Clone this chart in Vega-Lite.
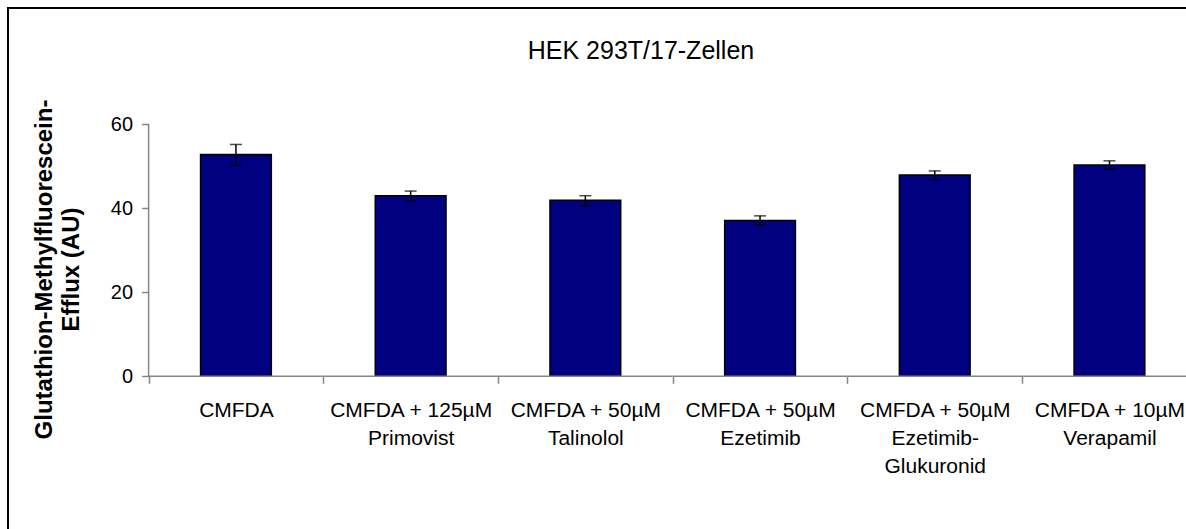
{
  "$schema": "https://vega.github.io/schema/vega-lite/v6.json",
  "width": 1188.8,
  "height": 527,
  "autosize": {"type": "none"},
  "padding": {"left": 8, "top": 8, "right": 0, "bottom": 0},
  "background": "white",
  "config": {
    "view": {"stroke": "black", "strokeWidth": 2, "fill": "white"},
    "font": "Liberation Sans"
  },
  "title": {
    "text": "HEK 293T/17-Zellen",
    "font": "Liberation Sans",
    "fontSize": 25,
    "fontWeight": "normal",
    "color": "black",
    "anchor": "middle",
    "frame": "group",
    "baseline": "alphabetic",
    "offset": 0,
    "dx": 38.6,
    "dy": 76
  },
  "resolve": {"axis": {"y": "independent"}},
  "data": {
    "values": [
      {"cat": "CMFDA", "v": 52.8, "lo": 50.2, "hi": 55.2},
      {"cat": "CMFDA + 125µM|Primovist", "v": 43.0, "lo": 41.7, "hi": 44.1},
      {"cat": "CMFDA + 50µM|Talinolol", "v": 41.9, "lo": 40.6, "hi": 43.0},
      {"cat": "CMFDA + 50µM|Ezetimib", "v": 37.1, "lo": 36.0, "hi": 38.2},
      {"cat": "CMFDA + 50µM|Ezetimib-|Glukuronid", "v": 47.9, "lo": 46.8, "hi": 48.9},
      {"cat": "CMFDA + 10µM|Verapamil", "v": 50.3, "lo": 49.2, "hi": 51.3}
    ]
  },
  "encoding": {
    "x": {
      "field": "cat",
      "type": "nominal",
      "sort": null,
      "title": null,
      "scale": {"paddingInner": 0, "paddingOuter": 0.4024, "align": 1, "round": false},
      "axis": {
        "orient": "bottom",
        "offset": -158.7,
        "domain": false,
        "ticks": true,
        "tickBand": "extent",
        "tickSize": 7,
        "tickColor": "#868686",
        "tickWidth": 1.5,
        "labelAngle": 0,
        "labelExpr": "split(datum.label, '|')",
        "labelFont": "Liberation Sans",
        "labelFontSize": 21,
        "labelColor": "black",
        "labelLineHeight": 28,
        "labelPadding": 16,
        "labelLimit": 0,
        "labelOverlap": false
      }
    }
  },
  "layer": [
    {
      "mark": {"type": "bar", "width": {"band": 0.405}, "fill": "#000080", "stroke": "black", "strokeWidth": 1.5},
      "encoding": {
        "y": {
          "field": "v",
          "type": "quantitative",
          "scale": {"domain": [-37.786, 87.69], "nice": false, "zero": false},
          "axis": {
            "orient": "left",
            "offset": -140.6,
            "values": [0, 20, 40, 60],
            "domain": false,
            "grid": false,
            "ticks": true,
            "tickSize": 7,
            "tickColor": "#868686",
            "tickWidth": 1.5,
            "labelFont": "Liberation Sans",
            "labelFontSize": 20,
            "labelColor": "black",
            "labelPadding": 9,
            "title": ["Glutathion-Methylfluorescein-", "Efflux (AU)"],
            "titleFont": "Liberation Sans",
            "titleFontWeight": "bold",
            "titleFontSize": 24,
            "titleLineHeight": 27,
            "titleColor": "black",
            "titleAngle": -90,
            "titleAlign": "center",
            "titleBaseline": "middle",
            "titleX": -104,
            "titleY": 261
          }
        }
      }
    },
    {
      "mark": {"type": "errorbar", "ticks": {"size": 12, "color": "black", "thickness": 1.5}, "rule": {"color": "black", "strokeWidth": 1.5}},
      "encoding": {
        "y": {"field": "lo", "type": "quantitative", "axis": null},
        "y2": {"field": "hi"}
      }
    },
    {
      "mark": {"type": "bar", "width": {"band": 1}, "fillOpacity": 0, "stroke": "#868686", "strokeWidth": 1.5},
      "encoding": {
        "y": {"datum": 0, "type": "quantitative", "axis": null},
        "y2": {"datum": 0}
      }
    },
    {
      "transform": [{"filter": "datum.cat === 'CMFDA'"}],
      "mark": {"type": "rule", "color": "#868686", "strokeWidth": 1.5},
      "encoding": {
        "x": {"field": "cat", "type": "nominal", "bandPosition": 0},
        "y": {"datum": 0, "type": "quantitative", "axis": null},
        "y2": {"datum": 60}
      }
    }
  ]
}
